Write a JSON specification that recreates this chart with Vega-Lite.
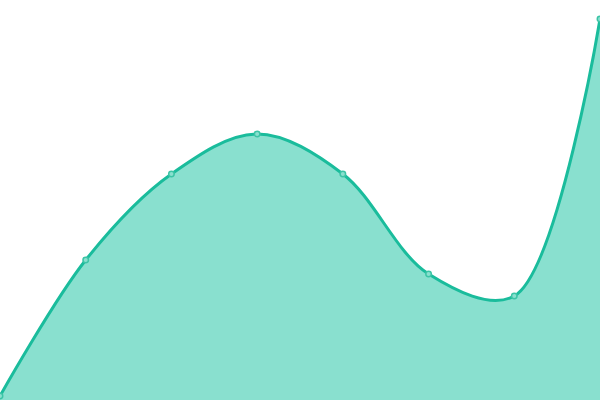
{
  "$schema": "https://vega.github.io/schema/vega-lite/v6.json",
  "width": 600,
  "height": 400,
  "padding": 0,
  "autosize": {"type": "none"},
  "background": "white",
  "config": {"view": {"stroke": null}},
  "data": {
    "values": [
      {"i": 0, "v": 4},
      {"i": 1, "v": 140},
      {"i": 2, "v": 226},
      {"i": 3, "v": 266},
      {"i": 4, "v": 226},
      {"i": 5, "v": 126},
      {"i": 6, "v": 104},
      {"i": 7, "v": 381}
    ]
  },
  "encoding": {
    "x": {"field": "i", "type": "quantitative", "axis": null, "scale": {"domain": [0, 7], "nice": false}},
    "y": {"field": "v", "type": "quantitative", "axis": null, "scale": {"domain": [0, 400], "nice": false}}
  },
  "layer": [
    {
      "mark": {"type": "area", "interpolate": "catmull-rom", "color": "#89e0cf", "opacity": 1}
    },
    {
      "mark": {"type": "line", "interpolate": "catmull-rom", "color": "#1abc9c", "strokeWidth": 3}
    },
    {
      "mark": {"type": "point", "filled": true, "size": 30, "fill": "#89e0cf", "stroke": "#3cc4a6", "strokeWidth": 1.5, "opacity": 1}
    }
  ]
}
